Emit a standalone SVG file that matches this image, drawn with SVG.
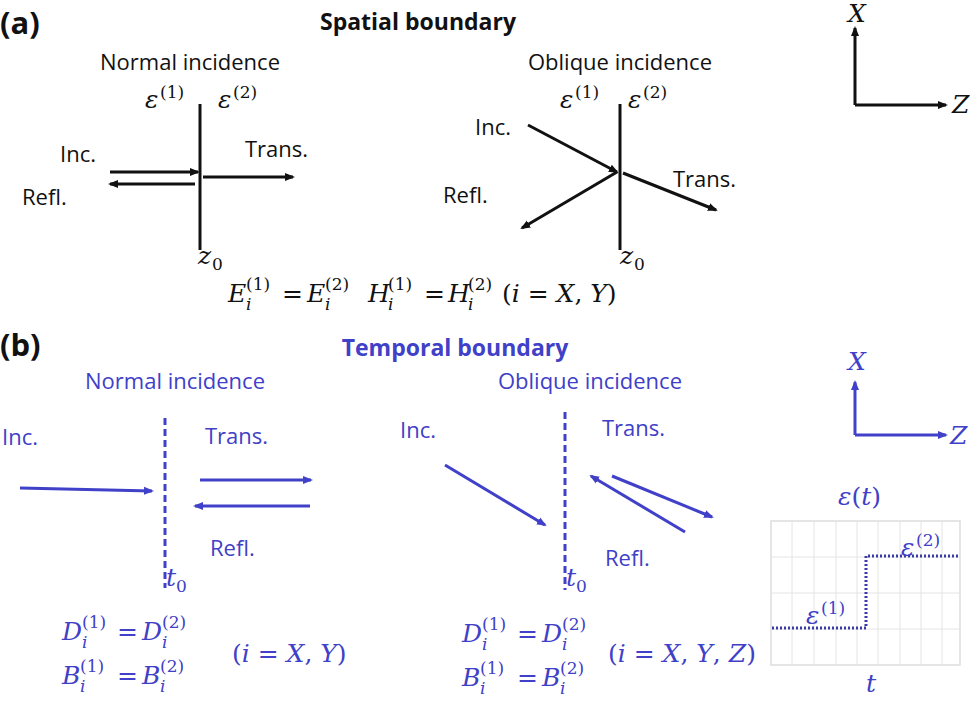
<svg xmlns="http://www.w3.org/2000/svg" width="972" height="704" viewBox="0 0 972 704">
<style>
.s{font-family:"Open Sans","Liberation Sans",Arial,sans-serif;font-size:22px;fill:#111}
.sb{fill:#4040c8}
.b{font-weight:bold}
.m{font-family:"DejaVu Serif","Liberation Serif",serif;font-style:italic;font-size:25px;fill:#111}
.u{font-family:"DejaVu Serif","Liberation Serif",serif;font-size:25px;fill:#111}
.p{font-family:"DejaVu Serif","Liberation Serif",serif;font-size:17px;fill:#111}
.q{font-family:"DejaVu Serif","Liberation Serif",serif;font-style:italic;font-size:17px;fill:#111}
.k{stroke:#111;stroke-width:3;fill:none}
.bl{stroke:#4040c8;stroke-width:3;fill:none}
.mb{fill:#4040c8}
.g{stroke:#e4e4e4;stroke-width:1}
.big{font-size:31px}
.ttl{font-size:23px}
</style>
<defs>
<marker id="ak" markerWidth="10" markerHeight="10" refX="8" refY="5" orient="auto" markerUnits="userSpaceOnUse"><path d="M0,1 L10,5 L0,9 z" fill="#111"/></marker>
<marker id="ab" markerWidth="10" markerHeight="10" refX="8" refY="5" orient="auto" markerUnits="userSpaceOnUse"><path d="M0,1 L10,5 L0,9 z" fill="#4040c8"/></marker>
</defs>
<rect width="972" height="704" fill="#fff"/>
<text class="s b big" x="0" y="34">(a)</text>
<text class="s b ttl" x="418" y="30" text-anchor="middle">Spatial boundary</text>
<g id="a-normal">
<text class="s" x="190" y="70" text-anchor="middle">Normal incidence</text>
<text class="m" x="145" y="108">ε</text><text class="p" x="160" y="98">(1)</text>
<text class="m" x="218" y="108">ε</text><text class="p" x="233" y="98">(2)</text>
<text class="s" x="60" y="162">Inc.</text>
<text class="s" x="245" y="157">Trans.</text>
<text class="s" x="22" y="205">Refl.</text>
<text class="m" x="198" y="264">z</text><text class="p" x="212" y="270">0</text>
</g>
<g id="a-oblique">
<text class="s" x="620" y="70" text-anchor="middle">Oblique incidence</text>
<text class="m" x="560" y="108">ε</text><text class="p" x="575" y="98">(1)</text>
<text class="m" x="628" y="108">ε</text><text class="p" x="643" y="98">(2)</text>
<text class="s" x="475" y="135">Inc.</text>
<text class="s" x="673" y="187">Trans.</text>
<text class="s" x="443" y="203">Refl.</text>
<text class="m" x="620" y="264">z</text><text class="p" x="634" y="270">0</text>
</g>
<g id="a-eq">
<text class="m" x="228" y="302">E</text><text class="p" x="246" y="290">(1)</text><text class="q" x="246" y="310">i</text>
<text class="u" x="282" y="302">=</text>
<text class="m" x="307" y="302">E</text><text class="p" x="325" y="290">(2)</text><text class="q" x="325" y="310">i</text>
<text class="m" x="368" y="302">H</text><text class="p" x="388" y="290">(1)</text><text class="q" x="388" y="310">i</text>
<text class="u" x="424" y="302">=</text>
<text class="m" x="448" y="302">H</text><text class="p" x="468" y="290">(2)</text><text class="q" x="468" y="310">i</text>
<text class="m" x="502" y="302"><tspan font-style="normal">(</tspan>i<tspan font-style="normal"> = </tspan>X<tspan font-style="normal">, </tspan>Y<tspan font-style="normal">)</tspan></text>
</g>
<g id="a-axes">
<text class="m" x="848" y="22">X</text>
<text class="m" x="952" y="113">Z</text>
</g>
<text class="s b big" x="0" y="356">(b)</text>
<text class="s b sb ttl" x="455" y="356" text-anchor="middle">Temporal boundary</text>
<g id="b-normal">
<text class="s sb" x="175" y="389" text-anchor="middle">Normal incidence</text>
<text class="s sb" x="2" y="445">Inc.</text>
<text class="s sb" x="205" y="444">Trans.</text>
<text class="s sb" x="210" y="556">Refl.</text>
<text class="m mb" x="166" y="586">t</text><text class="p mb" x="176" y="592">0</text>
</g>
<g id="b-oblique">
<text class="s sb" x="590" y="389" text-anchor="middle">Oblique incidence</text>
<text class="s sb" x="400" y="438">Inc.</text>
<text class="s sb" x="602" y="436">Trans.</text>
<text class="s sb" x="605" y="566">Refl.</text>
<text class="m mb" x="566" y="586">t</text><text class="p mb" x="576" y="592">0</text>
</g>
<g id="b-eq1">
<text class="m mb" x="62" y="640">D</text><text class="p mb" x="82" y="628">(1)</text><text class="q mb" x="82" y="648">i</text>
<text class="u mb" x="117" y="640">=</text>
<text class="m mb" x="142" y="640">D</text><text class="p mb" x="162" y="628">(2)</text><text class="q mb" x="162" y="648">i</text>
<text class="m mb" x="62" y="684">B</text><text class="p mb" x="80" y="672">(1)</text><text class="q mb" x="80" y="692">i</text>
<text class="u mb" x="117" y="684">=</text>
<text class="m mb" x="142" y="684">B</text><text class="p mb" x="160" y="672">(2)</text><text class="q mb" x="160" y="692">i</text>
<text class="m mb" x="232" y="662"><tspan font-style="normal">(</tspan>i<tspan font-style="normal"> = </tspan>X<tspan font-style="normal">, </tspan>Y<tspan font-style="normal">)</tspan></text>
</g>
<g id="b-eq2">
<text class="m mb" x="462" y="642">D</text><text class="p mb" x="482" y="630">(1)</text><text class="q mb" x="482" y="650">i</text>
<text class="u mb" x="517" y="642">=</text>
<text class="m mb" x="542" y="642">D</text><text class="p mb" x="562" y="630">(2)</text><text class="q mb" x="562" y="650">i</text>
<text class="m mb" x="462" y="686">B</text><text class="p mb" x="480" y="674">(1)</text><text class="q mb" x="480" y="694">i</text>
<text class="u mb" x="517" y="686">=</text>
<text class="m mb" x="542" y="686">B</text><text class="p mb" x="560" y="674">(2)</text><text class="q mb" x="560" y="694">i</text>
<text class="m mb" x="608" y="662"><tspan font-style="normal">(</tspan>i<tspan font-style="normal"> = </tspan>X<tspan font-style="normal">, </tspan>Y<tspan font-style="normal">, </tspan>Z<tspan font-style="normal">)</tspan></text>
</g>
<g id="b-axes">
<text class="m mb" x="848" y="370">X</text>
<text class="m mb" x="950" y="444">Z</text>
</g>
<g id="b-graph">
<rect x="771" y="521" width="189" height="144" fill="none" stroke="#ddd" stroke-width="1.5"/>
<path class="g" d="M792,521V665M814,521V665M836,521V665M857,521V665M878,521V665M900,521V665M921,521V665M942,521V665M771,557H960M771,593H960M771,629H960"/>
<path d="M772,628H866V556H960" fill="none" stroke="#3a3aa8" stroke-width="3" stroke-dasharray="2,2"/>
<text class="m mb" x="838" y="505">ε<tspan font-style="normal">(</tspan>t<tspan font-style="normal">)</tspan></text>
<text class="m mb" x="806" y="624">ε</text><text class="p mb" x="821" y="614">(1)</text>
<text class="m mb" x="901" y="556">ε</text><text class="p mb" x="916" y="546">(2)</text>
<text class="m mb" x="866" y="692">t</text>
</g>
<g id="connectors">
<path class="k" d="M200,104V250"/>
<path class="k" d="M110,172H198" marker-end="url(#ak)"/>
<path class="k" d="M195,184H110" marker-end="url(#ak)"/>
<path class="k" d="M203,177H293" marker-end="url(#ak)"/>
<path class="k" d="M620,104V250"/>
<path class="k" d="M528,125L617,172" marker-end="url(#ak)"/>
<path class="k" d="M617,172L522,228" marker-end="url(#ak)"/>
<path class="k" d="M623,173L716,210" marker-end="url(#ak)"/>
<path class="k" d="M855,105V28" marker-end="url(#ak)"/>
<path class="k" d="M855,105H946" marker-end="url(#ak)"/>
<path class="bl" d="M165,418V588" stroke-dasharray="7,4"/>
<path class="bl" d="M20,488L152,491" marker-end="url(#ab)"/>
<path class="bl" d="M200,480H311" marker-end="url(#ab)"/>
<path class="bl" d="M310,506H195" marker-end="url(#ab)"/>
<path class="bl" d="M565,412V590" stroke-dasharray="7,4"/>
<path class="bl" d="M445,465L545,525" marker-end="url(#ab)"/>
<path class="bl" d="M612,476L712,517" marker-end="url(#ab)"/>
<path class="bl" d="M685,532L591,476" marker-end="url(#ab)"/>
<path class="bl" d="M855,435V382" marker-end="url(#ab)"/>
<path class="bl" d="M855,435H946" marker-end="url(#ab)"/>
</g>
</svg>
